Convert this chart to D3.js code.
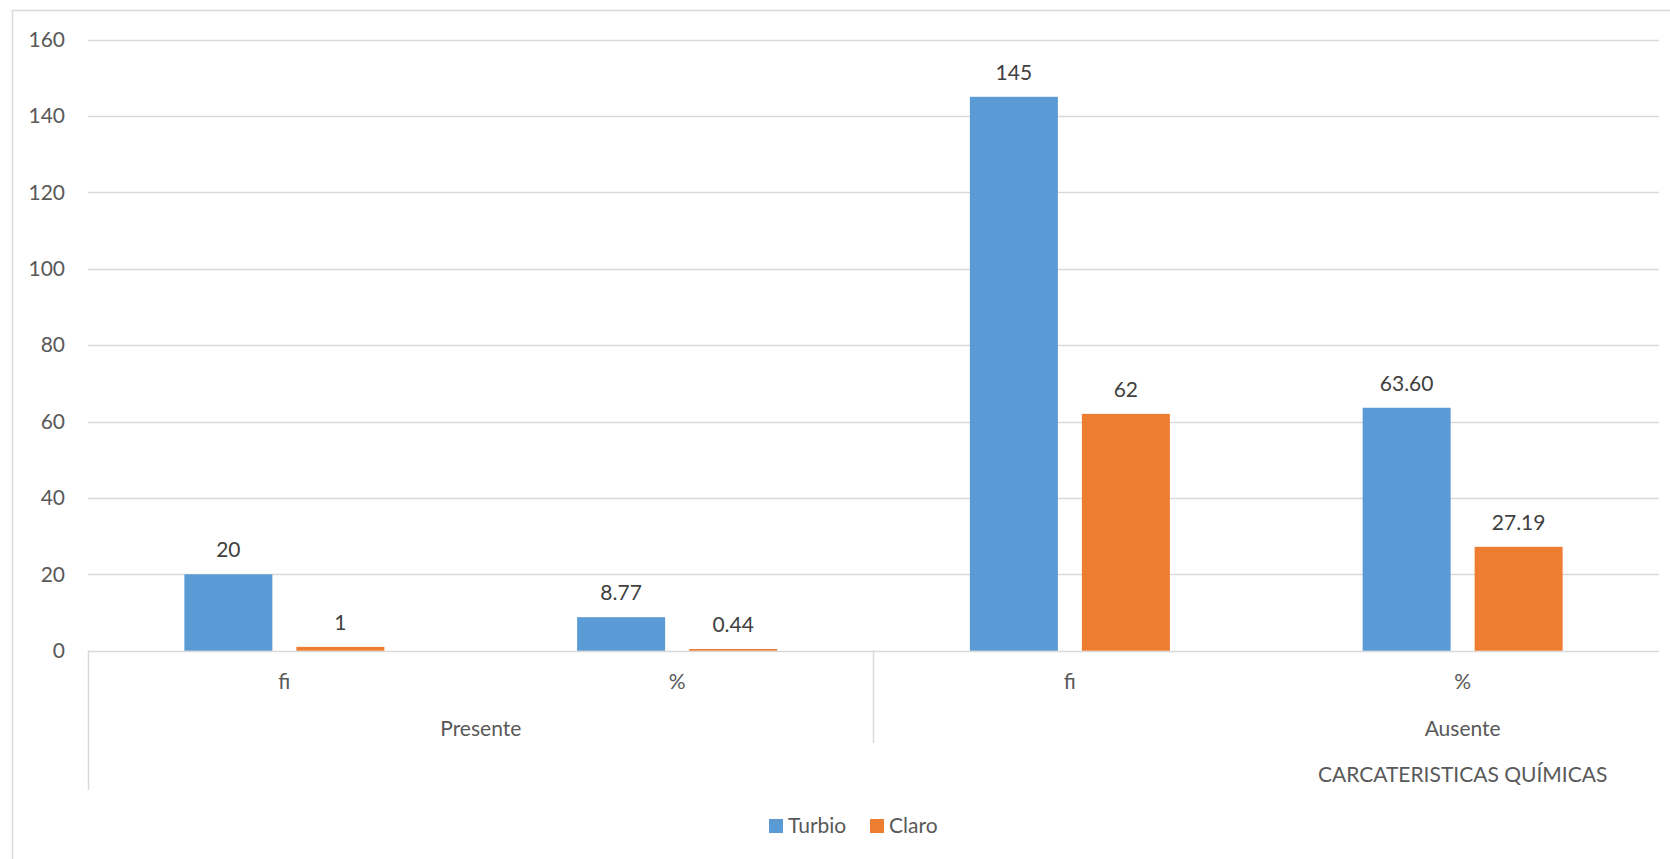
<!DOCTYPE html>
<html>
<head>
<meta charset="utf-8">
<script src="https://cdn.jsdelivr.net/npm/d3@7.9.0/dist/d3.min.js"></script>
<style>
  html, body { margin: 0; padding: 0; background: #fff; }
  svg { display: block; font-family: Lato, "Open Sans", sans-serif; }
</style>
</head>
<body>
<svg id="chart" width="1670" height="859"></svg>
<script>
// categories (inner level) and their groups
const categories = ['fi', '%', 'fi', '%'];
const groupLabels = ['Presente', 'Ausente'];
const outerLabel = 'CARCATERISTICAS QUÍMICAS';
const seriesNames = ['Turbio', 'Claro'];
const turbio = [20, 8.77, 145, 63.60];
const claro = [1, 0.44, 62, 27.19];
const yTicks = [0, 20, 40, 60, 80, 100, 120, 140, 160];

const colors = { Turbio: '#5b9bd5', Claro: '#ed7d31' };
const grid = '#d9d9d9';
const axisText = '#595959';
const labelText = '#404040';
const fs = 21;

const svg = d3.select('#chart');
const plotLeft = 88, plotRight = 1659, plotTop = 39.5, plotBottom = 650.7;

// chart area border
svg.append('rect')
  .attr('x', 12.5).attr('y', 10.5)
  .attr('width', 1680).attr('height', 900)
  .attr('fill', 'none').attr('stroke', grid).attr('stroke-width', 1.5);

const y = d3.scaleLinear().domain([0, 160]).range([plotBottom, plotTop]);
const x = d3.scaleBand().domain(d3.range(categories.length)).range([plotLeft, plotRight]).padding(0);
const bw = x.bandwidth();
const inner = d3.scaleBand().domain(seriesNames)
  .range([bw / 2 - 100, bw / 2 + 100]).paddingInner(0.2143);

// gridlines
svg.append('g')
  .selectAll('line')
  .data(yTicks)
  .join('line')
  .attr('x1', plotLeft).attr('x2', plotRight)
  .attr('y1', (d) => Math.round(y(d)) + 0.5)
  .attr('y2', (d) => Math.round(y(d)) + 0.5)
  .attr('stroke', grid).attr('stroke-width', 1.5);

// y tick labels
svg.append('g')
  .selectAll('text')
  .data(yTicks)
  .join('text')
  .attr('x', 65)
  .attr('y', (d) => y(d))
  .attr('dy', '0.35em')
  .attr('text-anchor', 'end')
  .attr('fill', axisText)
  .attr('font-size', fs)
  .text((d) => d);

// bars
const rows = categories.map((c, i) => ({ i, cat: c, Turbio: turbio[i], Claro: claro[i] }));
const fmt = (row, v) => (row.cat === '%' ? d3.format('.2f')(v) : d3.format('d')(v));

const groups = svg.append('g')
  .selectAll('g')
  .data(rows)
  .join('g')
  .attr('transform', (d) => `translate(${x(d.i)},0)`);

groups.selectAll('rect')
  .data((d) => seriesNames.map((s) => ({ s, v: d[s], row: d })))
  .join('rect')
  .attr('x', (d) => inner(d.s))
  .attr('width', inner.bandwidth())
  .attr('y', (d) => y(d.v))
  .attr('height', (d) => plotBottom - y(d.v))
  .attr('fill', (d) => colors[d.s]);

groups.selectAll('text.val')
  .data((d) => seriesNames.map((s) => ({ s, v: d[s], row: d })))
  .join('text')
  .attr('class', 'val')
  .attr('x', (d) => inner(d.s) + inner.bandwidth() / 2)
  .attr('y', (d) => y(d.v) - 17)
  .attr('text-anchor', 'middle')
  .attr('fill', labelText)
  .attr('font-size', fs)
  .text((d) => fmt(d.row, d.v));

// multi-level category axis
svg.append('g')
  .selectAll('text')
  .data(rows)
  .join('text')
  .attr('x', (d) => x(d.i) + bw / 2)
  .attr('y', 682)
  .attr('dy', '0.35em')
  .attr('text-anchor', 'middle')
  .attr('fill', axisText)
  .attr('font-size', fs)
  .text((d) => d.cat);

svg.append('line')
  .attr('x1', plotLeft + 0.5).attr('x2', plotLeft + 0.5)
  .attr('y1', plotBottom).attr('y2', 790)
  .attr('stroke', grid).attr('stroke-width', 1.5);
svg.append('line')
  .attr('x1', x(2)).attr('x2', x(2))
  .attr('y1', plotBottom).attr('y2', 743)
  .attr('stroke', grid).attr('stroke-width', 1.5);

svg.append('text')
  .attr('x', (x(0) + x(1) + bw) / 2)
  .attr('y', 729).attr('dy', '0.35em')
  .attr('text-anchor', 'middle').attr('fill', axisText).attr('font-size', fs)
  .text(groupLabels[0]);
svg.append('text')
  .attr('x', x(3) + bw / 2)
  .attr('y', 729).attr('dy', '0.35em')
  .attr('text-anchor', 'middle').attr('fill', axisText).attr('font-size', fs)
  .text(groupLabels[1]);
svg.append('text')
  .attr('x', x(3) + bw / 2)
  .attr('y', 782)
  .attr('text-anchor', 'middle').attr('fill', axisText).attr('font-size', fs)
  .text(outerLabel);

// legend
const legend = svg.append('g').attr('transform', 'translate(769,819)');
const legendX = [0, 101];
seriesNames.forEach((s, i) => {
  const g = legend.append('g').attr('transform', `translate(${legendX[i]},0)`);
  g.append('rect').attr('width', 14).attr('height', 14).attr('fill', colors[s]);
  g.append('text')
    .attr('x', 19).attr('y', 7).attr('dy', '0.35em')
    .attr('fill', axisText).attr('font-size', fs)
    .text(s);
});
</script>
</body>
</html>
